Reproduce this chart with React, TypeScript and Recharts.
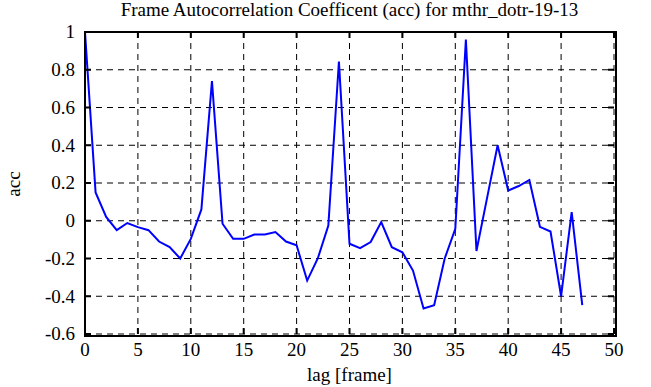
import { LineChart, Line, XAxis, YAxis, CartesianGrid } from "recharts";

// autocorrelation values, lag 0..47
const lags = [
  0, 1, 2, 3, 4, 5, 6, 7, 8, 9, 10, 11, 12, 13, 14, 15, 16, 17, 18, 19, 20, 21, 22, 23,
  24, 25, 26, 27, 28, 29, 30, 31, 32, 33, 34, 35, 36, 37, 38, 39, 40, 41, 42, 43, 44, 45, 46, 47,
];
const acc = [
  1.0, 0.15, 0.02, -0.05, -0.012, -0.034, -0.05, -0.11, -0.14, -0.2, -0.096, 0.06, 0.74,
  -0.016, -0.096, -0.096, -0.073, -0.073, -0.06, -0.11, -0.13, -0.317, -0.2, -0.025, 0.844,
  -0.122, -0.145, -0.113, -0.007, -0.14, -0.167, -0.264, -0.465, -0.447, -0.2, -0.043, 0.96,
  -0.16, 0.12, 0.4, 0.16, 0.184, 0.216, -0.032, -0.057, -0.4, 0.046, -0.447,
];
const xTicks = [0, 5, 10, 15, 20, 25, 30, 35, 40, 45, 50];
const yTicks = [-0.6, -0.4, -0.2, 0, 0.2, 0.4, 0.6, 0.8, 1];

const data = lags.map((lag, i) => ({ lag, acc: acc[i] }));

const FONT = "Liberation Serif";
const FS = 19;
const W = 651;
const H = 387;
const M = { top: 32, right: 37, bottom: 53, left: 85 };
const TICK = 6;

// inward tick marks on all four sides, labels only bottom/left
const BottomTick = (p: any) => (
  <g>
    <line x1={p.x} x2={p.x} y1={p.y} y2={p.y - TICK} stroke="#000" strokeWidth={2} />
    <line x1={p.x} x2={p.x} y1={M.top} y2={M.top + TICK} stroke="#000" strokeWidth={2} />
    <text x={p.x} y={p.y + 7} dy="0.78em" textAnchor="middle" fill="#000" fontSize={FS} fontFamily={FONT}>
      {p.payload.value}
    </text>
  </g>
);
const LeftTick = (p: any) => (
  <g>
    <line x1={p.x} x2={p.x + TICK} y1={p.y} y2={p.y} stroke="#000" strokeWidth={2} />
    <line x1={W - M.right} x2={W - M.right - TICK} y1={p.y} y2={p.y} stroke="#000" strokeWidth={2} />
    <text x={p.x - 10} y={p.y} dy="0.33em" textAnchor="end" fill="#000" fontSize={FS} fontFamily={FONT}>
      {p.payload.value}
    </text>
  </g>
);

export default function App() {
  return (
    <div style={{ position: "absolute", left: 0, top: 0, width: W, height: H, fontFamily: FONT, background: "#fff" }}>
      <LineChart width={W} height={H} data={data} margin={{ top: M.top, right: M.right, bottom: 0, left: 0 }}>
        <CartesianGrid stroke="#000" strokeDasharray="6 5" strokeWidth={1} />
        <XAxis
          dataKey="lag"
          type="number"
          domain={[0, 50]}
          ticks={xTicks}
          height={M.bottom}
          axisLine={false}
          tickLine={false}
          tickSize={0}
          tickMargin={0}
          tick={BottomTick}
          interval={0}
        />
        <YAxis
          type="number"
          domain={[-0.6, 1]}
          ticks={yTicks}
          width={M.left}
          axisLine={false}
          tickLine={false}
          tickSize={0}
          tickMargin={0}
          tick={LeftTick}
          interval={0}
        />
        <Line
          type="linear"
          dataKey="acc"
          stroke="#0000ff"
          strokeWidth={2}
          dot={false}
          isAnimationActive={false}
        />
      </LineChart>
      {/* plot frame */}
      <div
        style={{
          position: "absolute",
          left: M.left - 1,
          top: M.top - 1,
          width: W - M.left - M.right,
          height: H - M.top - M.bottom,
          border: "2px solid #000",
          boxSizing: "content-box",
          pointerEvents: "none",
        }}
      />
      <div style={{ position: "absolute", top: 0, left: M.left, width: W - M.left - M.right, textAlign: "center", fontSize: FS, lineHeight: "20px" }}>
        Frame Autocorrelation Coefficent (acc) for mthr_dotr-19-13
      </div>
      <div style={{ position: "absolute", top: 364, left: M.left, width: W - M.left - M.right, textAlign: "center", fontSize: FS, lineHeight: "22px" }}>
        lag [frame]
      </div>
      <div style={{ position: "absolute", left: 14, top: 184, transform: "translate(-50%, -50%) rotate(-90deg)", fontSize: FS, lineHeight: "22px" }}>
        acc
      </div>
    </div>
  );
}
